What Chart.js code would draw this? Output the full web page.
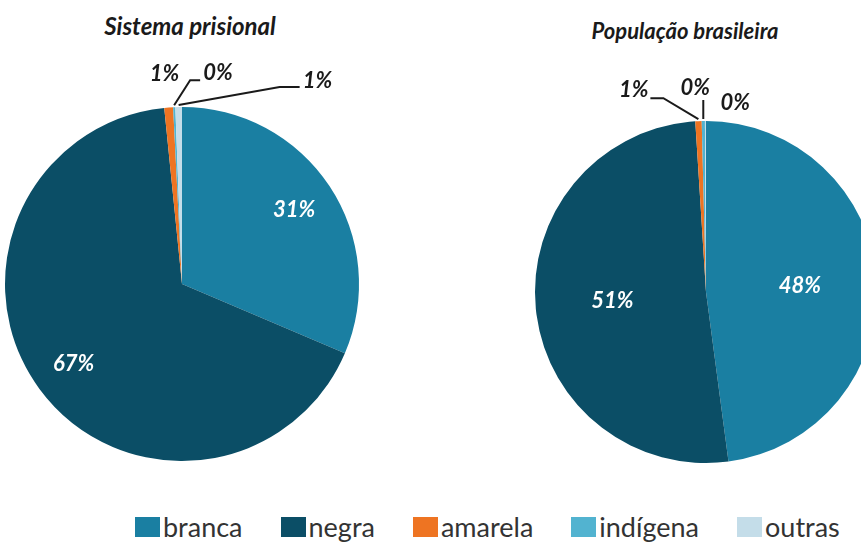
<!DOCTYPE html>
<html>
<head>
<meta charset="utf-8">
<script src="https://cdn.jsdelivr.net/npm/chart.js@4.4.1/dist/chart.umd.min.js"></script>
<style>
  body { margin: 0; width: 861px; height: 543px; overflow: hidden; background: #fff; position: relative; font-family: Lato, sans-serif; }
  canvas { position: absolute; }
  .titulo { position: absolute; font-weight: bold; font-style: italic; color: #1a1a1a; white-space: nowrap; transform: translateX(-50%); }
  #legenda { position: absolute; left: 135px; top: 513px; display: flex; gap: 38px; font-size: 27px; color: #333; line-height: 28px; }
  #legenda span.item { display: flex; align-items: center; }
  #legenda i { display: inline-block; width: 25px; height: 20px; margin-right: 3px; }
</style>
</head>
<body>
<div class="titulo" style="left:190px; top:11px; font-size:24px;">Sistema prisional</div>
<div class="titulo" style="left:685px; top:17px; font-size:22px;">População brasileira</div>
<canvas id="prisional" width="430" height="460" style="left:0px; top:40px;"></canvas>
<canvas id="populacao" width="420" height="440" style="left:500px; top:60px;"></canvas>
<div id="legenda"></div>

<script>
// cor/raça: sistema prisional x população brasileira (%)
const categorias = ['branca', 'negra', 'amarela', 'indígena', 'outras'];
const cores = ['#1a7fa2', '#0b4e66', '#ee7422', '#52b3d0', '#c4dde9'];
const prisional = [31.4, 67.0, 0.8, 0.2, 0.6];
const populacao = [47.9, 51.1, 0.6, 0.3, 0.1];

// rótulos: dentro da fatia para as grandes, com linha de chamada para as pequenas
const etiquetas = {
  id: 'etiquetas',
  afterDatasetsDraw(chart, args, opts) {
    const ctx = chart.ctx;
    const arcs = chart.getDatasetMeta(0).data;
    const vals = chart.data.datasets[0].data;
    ctx.save();
    ctx.font = 'italic bold 22px Lato';
    arcs.forEach((arc, i) => {
      const { x, y, startAngle, endAngle, outerRadius } = arc.getProps(['x', 'y', 'startAngle', 'endAngle', 'outerRadius'], true);
      const mid = (startAngle + endAngle) / 2;
      const txt = Math.round(vals[i]) + '%';
      const ext = opts.externas[i];
      if (!ext) {
        const r = outerRadius * opts.raio;
        ctx.fillStyle = '#fff';
        ctx.textAlign = 'center';
        ctx.textBaseline = 'middle';
        ctx.fillText(txt, x + Math.cos(mid) * r, y + Math.sin(mid) * r);
        return;
      }
      let px = x + Math.cos(mid) * (outerRadius + 2);
      let py = y + Math.sin(mid) * (outerRadius + 2);
      ctx.beginPath();
      ctx.moveTo(px, py);
      ext.linha.forEach(([dx, dy]) => { px += dx; py += dy; ctx.lineTo(px, py); });
      ctx.strokeStyle = '#1a1a1a';
      ctx.lineWidth = 2;
      if (ext.linha.length) ctx.stroke();
      ctx.fillStyle = '#1a1a1a';
      ctx.textAlign = ext.alinhar;
      ctx.textBaseline = 'alphabetic';
      ctx.fillText(txt, px + ext.texto[0], py + ext.texto[1]);
    });
    ctx.restore();
  }
};

function desenhaPizza(id, valores, padding, raio, externas) {
  new Chart(document.getElementById(id), {
    type: 'pie',
    data: {
      labels: categorias,
      datasets: [{
        data: valores,
        backgroundColor: cores,
        borderWidth: 0,
        hoverOffset: 0,
        offset: 0
      }]
    },
    options: {
      responsive: false,
      animation: false,
      layout: { padding: padding },
      plugins: {
        legend: { display: false },
        tooltip: { enabled: false },
        etiquetas: { raio: raio, externas: externas }
      }
    },
    plugins: [etiquetas]
  });
}

desenhaPizza('prisional', prisional, { left: 5, top: 67, right: 71, bottom: 39 }, 0.76, {
  2: { linha: [], texto: [-4, -25], alinhar: 'center' },
  3: { linha: [[16, -25], [10, 0]], texto: [3, 0], alinhar: 'left' },
  4: { linha: [[101, -18], [20, 0]], texto: [3, 1], alinhar: 'left' }
});

desenhaPizza('populacao', populacao, { left: 35, top: 61, right: 43, bottom: 37 }, 0.55, {
  2: { linha: [[-35, -21], [-13, 0]], texto: [-2, -1], alinhar: 'right' },
  3: { linha: [[0, -19]], texto: [-8, -5], alinhar: 'center' },
  4: { linha: [], texto: [15, -9], alinhar: 'left' }
});

// legenda
const legenda = document.getElementById('legenda');
categorias.forEach((c, i) => {
  const item = document.createElement('span');
  item.className = 'item';
  item.innerHTML = '<i style="background:' + cores[i] + '"></i>' + c;
  legenda.appendChild(item);
});
</script>
</body>
</html>
